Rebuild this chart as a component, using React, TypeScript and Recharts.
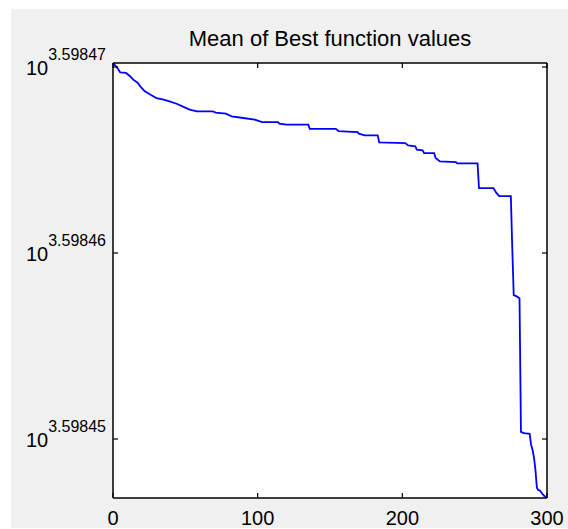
import React from "react";
import { LineChart, Line, XAxis, YAxis, CartesianGrid } from "recharts";

// Iteration numbers at which the curve changes
const iterations = [
  0, 3, 5, 9, 12, 14, 17, 19, 22, 26, 30, 35, 39, 44, 48, 53, 58, 69, 71, 78,
  82, 90, 98, 103, 114, 115, 120, 135, 136, 154, 156, 169, 170, 174, 183, 184,
  202, 204, 209, 210, 214, 215, 222, 223, 226, 237, 238, 252, 253, 263, 265,
  267, 275, 276, 277, 279, 281, 282, 284, 288, 289, 290, 291, 292, 293, 294,
  295, 296, 297, 298, 299, 300,
];

// Mean of best function values at those iterations
const bestValues = [
  3967.0732, 3967.0708, 3967.0686, 3967.0683, 3967.0666, 3967.065, 3967.0635,
  3967.0616, 3967.0593, 3967.0576, 3967.056, 3967.0552, 3967.0544, 3967.0532,
  3967.0519, 3967.0503, 3967.0494, 3967.0494, 3967.0488, 3967.0483, 3967.047,
  3967.0462, 3967.0454, 3967.0442, 3967.0442, 3967.0434, 3967.0429, 3967.0429,
  3967.0409, 3967.0409, 3967.0397, 3967.0393, 3967.0385, 3967.0377, 3967.0377,
  3967.0342, 3967.0339, 3967.0327, 3967.0323, 3967.0306, 3967.0303, 3967.029,
  3967.0289, 3967.0266, 3967.0249, 3967.0245, 3967.0239, 3967.0239, 3967.0118,
  3967.0118, 3967.0094, 3967.0078, 3967.0078, 3966.9822, 3966.9592, 3966.9586,
  3966.9577, 3966.8921, 3966.8915, 3966.8911, 3966.8858, 3966.8833, 3966.8794,
  3966.8735, 3966.8646, 3966.8634, 3966.8633, 3966.8624, 3966.8615, 3966.8607,
  3966.86, 3966.8596,
];

const xTicks = [0, 100, 200, 300];
const yTickExponents = ["3.59845", "3.59846", "3.59847"];
const titleText = "Mean of Best function values";

const data = iterations.map((it, i) => ({ iter: it, best: bestValues[i] }));
const yTicks = yTickExponents.map((e) => Math.pow(10, parseFloat(e)));
const yDomain = [Math.min(...bestValues), Math.max(...bestValues)];

const FONT = "'Liberation Sans', Arial, Helvetica, sans-serif";
const W = 557;
const H = 519;
const M = { top: 53, right: 20, bottom: 0, left: 12 };
const AXIS = { stroke: "#000", strokeWidth: 1.5 };
const TICKLINE = { stroke: "#000", strokeWidth: 1.2 };

const XTick = (props: any) => {
  const { x, y, payload } = props;
  return (
    <text x={x} y={y} dy="0.71em" textAnchor="middle" fontFamily={FONT} fontSize={20} fill="#000">
      {payload.value}
    </text>
  );
};

const YTick = (props: any) => {
  const { x, y, payload } = props;
  let idx = 0;
  let best = Infinity;
  yTicks.forEach((t, i) => {
    const d = Math.abs(t - payload.value);
    if (d < best) {
      best = d;
      idx = i;
    }
  });
  return (
    <text x={x} y={y + 8} textAnchor="end" fontFamily={FONT} fill="#000">
      <tspan fontSize={20}>10</tspan>
      <tspan fontSize={16} dy={-15}>
        {yTickExponents[idx]}
      </tspan>
    </text>
  );
};

const EmptyTick = () => <g />;

export default function App() {
  return (
    <div
      style={{
        position: "fixed",
        left: 11,
        top: 9,
        width: W,
        height: H,
        background: "#f0f0f0",
      }}
    >
      <LineChart width={W} height={H} data={data} margin={M}>
        <CartesianGrid
          xAxisId="b"
          yAxisId="l"
          horizontal={false}
          vertical={false}
          fill="#ffffff"
          fillOpacity={1}
          stroke="none"
        />
        <XAxis
          xAxisId="b"
          dataKey="iter"
          type="number"
          domain={[0, 300]}
          ticks={xTicks}
          interval={0}
          allowDataOverflow
          height={30}
          tickSize={-5}
          tickMargin={17.5}
          axisLine={AXIS}
          tickLine={TICKLINE}
          tick={XTick}
        />
        <XAxis
          xAxisId="t"
          dataKey="iter"
          orientation="top"
          type="number"
          domain={[0, 300]}
          ticks={xTicks}
          interval={0}
          allowDataOverflow
          height={1}
          tickSize={-5}
          axisLine={AXIS}
          tickLine={TICKLINE}
          tick={EmptyTick}
        />
        <YAxis
          yAxisId="l"
          type="number"
          scale="log"
          domain={yDomain}
          ticks={yTicks}
          interval={0}
          allowDataOverflow
          width={90}
          tickSize={-5}
          tickMargin={12}
          axisLine={AXIS}
          tickLine={TICKLINE}
          tick={YTick}
        />
        <YAxis
          yAxisId="r"
          orientation="right"
          type="number"
          scale="log"
          domain={yDomain}
          ticks={yTicks}
          interval={0}
          allowDataOverflow
          width={1}
          tickSize={-5}
          axisLine={AXIS}
          tickLine={TICKLINE}
          tick={EmptyTick}
        />
        <Line
          xAxisId="t"
          yAxisId="r"
          type="linear"
          dataKey="best"
          stroke="none"
          strokeWidth={0}
          dot={false}
          activeDot={false}
          legendType="none"
          isAnimationActive={false}
        />
        <Line
          xAxisId="b"
          yAxisId="l"
          type="linear"
          dataKey="best"
          stroke="#0000ff"
          strokeWidth={1.8}
          dot={false}
          activeDot={false}
          isAnimationActive={false}
        />
      </LineChart>
      <svg
        width={W}
        height={H}
        style={{ position: "absolute", left: 0, top: 0, pointerEvents: "none" }}
      >
        <text x={319} y={37} textAnchor="middle" fontFamily={FONT} fontSize={22} fill="#000">
          {titleText}
        </text>
      </svg>
    </div>
  );
}
